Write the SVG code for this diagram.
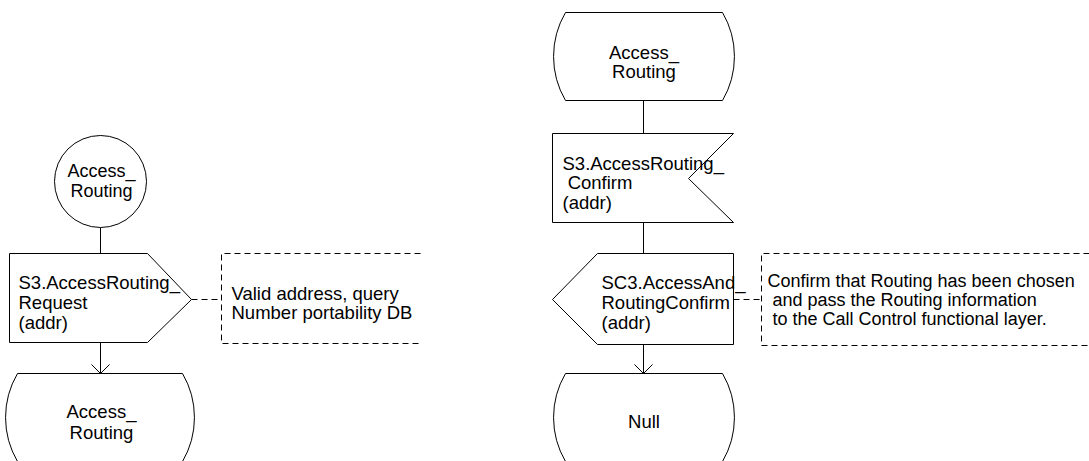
<svg xmlns="http://www.w3.org/2000/svg" width="1089" height="461" viewBox="0 0 1089 461">
<style>
.s{fill:#fff;stroke:#000;stroke-width:1}
.c{fill:none;stroke:#000;stroke-width:1}
.d{fill:none;stroke:#000;stroke-width:1;stroke-dasharray:6 4}
text{font-family:"Liberation Sans",Arial,sans-serif;font-size:18.5px;fill:#000}
.m{text-anchor:middle}
.n{font-size:18px}
</style>
<defs>
<marker id="arr" markerWidth="20" markerHeight="20" refX="10" refY="10" orient="auto" markerUnits="userSpaceOnUse">
<path d="M1,1 L10,10 L1,19" fill="none" stroke="#000" stroke-width="1"/>
</marker>
</defs>
<rect width="1089" height="461" fill="#fff"/>
<g transform="translate(0.5 0.5)">
<g id="connectors">
<line class="c" x1="100" y1="227" x2="100" y2="253"/>
<line class="c" x1="100" y1="342" x2="100" y2="373" marker-end="url(#arr)"/>
<line class="d" x1="191" y1="299" x2="221" y2="299"/>
<line class="c" x1="643" y1="100" x2="643" y2="133"/>
<line class="c" x1="643" y1="222" x2="643" y2="253"/>
<line class="c" x1="643" y1="344" x2="643" y2="373" marker-end="url(#arr)"/>
<line class="d" x1="733" y1="299" x2="761" y2="299"/>
</g>
<g id="start-left">
<circle class="s" cx="100" cy="181" r="46"/>
<text class="m n" x="101" y="176">Access_</text>
<text class="m n" x="101" y="196">Routing</text>
</g>
<g id="output-left">
<path class="s" d="M9,253 L147,253 L191,299 L147,342 L9,342 Z"/>
<text x="18" y="288">S3.AccessRouting_</text>
<text x="18" y="308">Request</text>
<text x="18" y="328">(addr)</text>
</g>
<g id="comment-left">
<path class="d" d="M420,253 L221,253 L221,343 L420,343"/>
<text x="231" y="299">Valid address, query</text>
<text x="231" y="318">Number portability DB</text>
</g>
<g id="state-left">
<path class="s" d="M17,373 L182,373 A87 87 0 0 1 182,461 L17,461 A87 87 0 0 1 17,373 Z"/>
<text class="m" x="101" y="417">Access_</text>
<text class="m" x="101" y="438">Routing</text>
</g>
<g id="state-top-right">
<path class="s" d="M565,12 L722,12 A87 87 0 0 1 722,100 L565,100 A87 87 0 0 1 565,12 Z"/>
<text class="m" x="643.5" y="58">Access_</text>
<text class="m" x="643.5" y="77">Routing</text>
</g>
<g id="input-right">
<path class="s" d="M552,133 L733,133 L688,178 L733,222 L552,222 Z"/>
<text x="562" y="169">S3.AccessRouting_</text>
<text x="562" y="188" xml:space="preserve"> Confirm</text>
<text x="562" y="208">(addr)</text>
</g>
<g id="output-right">
<path class="s" d="M597,253 L733,253 L733,344 L597,344 L552,299 Z"/>
<text x="601" y="288">SC3.AccessAnd_</text>
<text x="601" y="308">RoutingConfirm</text>
<text x="601" y="328">(addr)</text>
</g>
<g id="comment-right">
<path class="d" d="M1089,253 L761,253 L761,345 L1089,345"/>
<text class="n" x="767" y="286">Confirm that Routing has been chosen</text>
<text class="n" x="767" y="305" xml:space="preserve"> and pass the Routing information</text>
<text class="n" x="767" y="324" xml:space="preserve"> to the Call Control functional layer.</text>
</g>
<g id="state-null">
<path class="s" d="M565,373 L722,373 A87 87 0 0 1 722,461 L565,461 A87 87 0 0 1 565,373 Z"/>
<text class="m" x="643.5" y="427">Null</text>
</g>
</g>
</svg>
